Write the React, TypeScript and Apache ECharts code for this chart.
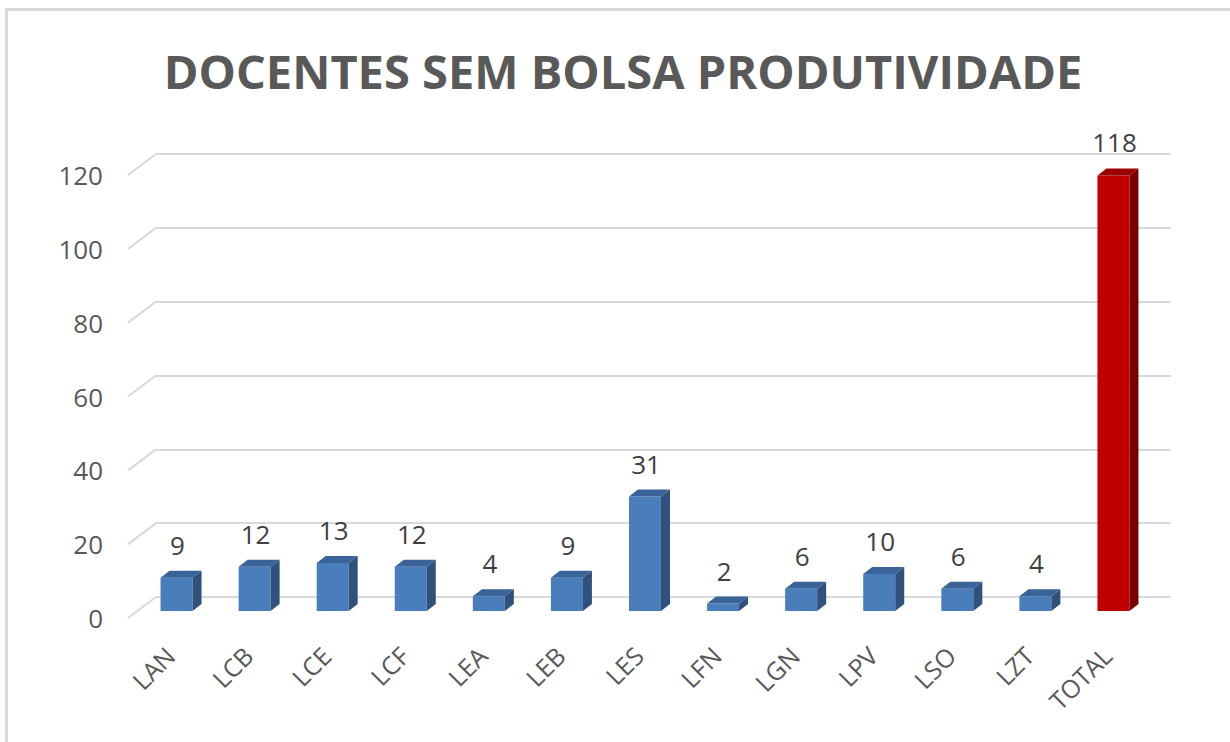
import React, { useEffect, useRef } from "react";
import * as echarts from "echarts";

const titleText = "DOCENTES SEM BOLSA PRODUTIVIDADE";
const categories = ["LAN", "LCB", "LCE", "LCF", "LEA", "LEB", "LES", "LFN", "LGN", "LPV", "LSO", "LZT", "TOTAL"];
const values = [9, 12, 13, 12, 4, 9, 31, 2, 6, 10, 6, 4, 118];
const yTicks = [0, 20, 40, 60, 80, 100, 120];

const FONT = "'Open Sans', 'Noto Sans', sans-serif";
// depth offsets (back wall -> front floor)
const DX = 28;
const DY = 21;
const BAR_HALF = 16;
const BAR_DX = 9;
const BAR_DY = 7;

export default function App() {
  const ref = useRef<HTMLDivElement>(null);

  useEffect(() => {
    if (!ref.current) return;
    const chart = echarts.init(ref.current, undefined, { renderer: "svg" });

    const option: any = {
      animation: false,
      backgroundColor: "#ffffff",
      grid: { left: 156, right: 59, top: 154, bottom: 145 },
      xAxis: {
        type: "category",
        data: categories,
        axisLine: { show: false },
        axisTick: { show: false },
        axisLabel: { show: false },
        splitLine: { show: false },
      },
      yAxis: {
        type: "value",
        min: 0,
        max: 120,
        interval: 20,
        axisLine: { show: false },
        axisTick: { show: false },
        axisLabel: { show: false },
        splitLine: { show: true, lineStyle: { color: "#d9d9d9", width: 2 } },
      },
      graphic: [
        {
          type: "rect",
          shape: { x: 6.5, y: 9.5, width: 1400, height: 900 },
          style: { fill: "none", stroke: "#d9d9d9", lineWidth: 3 },
          silent: true,
        },
        {
          type: "text",
          x: 623,
          y: 71,
          style: {
            text: titleText,
            font: `bold 47px ${FONT}`,
            fill: "#595959",
            align: "center",
            verticalAlign: "middle",
          },
        },
      ],
      series: [
        {
          type: "custom",
          clip: false,
          data: yTicks.map((v) => [0, v]),
          encode: { x: 0, y: 1 },
          z: 1,
          renderItem: (params: any, api: any) => {
            const v = api.value(1);
            const p = api.coord([0, v]);
            const gx = params.coordSys.x;
            const y = p[1];
            return {
              type: "group",
              children: [
                {
                  type: "line",
                  shape: { x1: gx - DX, y1: y + DY, x2: gx, y2: y },
                  style: { stroke: "#d9d9d9", lineWidth: 2 },
                },
                {
                  type: "text",
                  x: gx - DX - 25,
                  y: y + DY,
                  style: {
                    text: String(v),
                    font: `26px ${FONT}`,
                    fill: "#595959",
                    align: "right",
                    verticalAlign: "middle",
                  },
                },
              ],
            };
          },
        },
        {
          type: "custom",
          clip: false,
          data: values.map((v, i) => [i, v]),
          encode: { x: 0, y: 1 },
          z: 3,
          renderItem: (params: any, api: any) => {
            const i = api.value(0);
            const v = api.value(1);
            const top = api.coord([i, v]);
            const base = api.coord([i, 0]);
            // middle depth plane
            const mx = top[0] - DX / 2;
            const myTop = top[1] + DY / 2;
            const myBase = base[1] + DY / 2;
            // front face
            const fx = mx - BAR_DX / 2;
            const fTop = myTop + BAR_DY / 2;
            const fBase = myBase + BAR_DY / 2;
            const isTotal = categories[i] === "TOTAL";
            const cFront = isTotal ? "#c00000" : "#4a7ebb";
            const cSide = isTotal ? "#780000" : "#30517c";
            const cTop = isTotal ? "#9a0000" : "#3a6398";
            const L = fx - BAR_HALF;
            const R = fx + BAR_HALF;
            const floorCx = base[0] - DX;
            const floorY = base[1] + DY;
            return {
              type: "group",
              children: [
                {
                  type: "polygon",
                  shape: { points: [[L, fBase], [R, fBase], [R, fTop], [L, fTop]] },
                  style: { fill: cFront },
                },
                {
                  type: "polygon",
                  shape: {
                    points: [[R, fBase], [R + BAR_DX, fBase - BAR_DY], [R + BAR_DX, fTop - BAR_DY], [R, fTop]],
                  },
                  style: { fill: cSide },
                },
                {
                  type: "polygon",
                  shape: {
                    points: [[L, fTop], [R, fTop], [R + BAR_DX, fTop - BAR_DY], [L + BAR_DX, fTop - BAR_DY]],
                  },
                  style: { fill: cTop },
                },
                {
                  type: "text",
                  x: fx + 1,
                  y: fTop - 33,
                  style: {
                    text: String(v),
                    font: `26px ${FONT}`,
                    fill: "#404040",
                    align: "center",
                    verticalAlign: "middle",
                  },
                },
                {
                  type: "text",
                  x: floorCx + 3,
                  y: floorY + 33,
                  rotation: Math.PI / 4,
                  style: {
                    text: categories[i],
                    font: `25px ${FONT}`,
                    fill: "#595959",
                    align: "right",
                    verticalAlign: "middle",
                  },
                },
              ],
            };
          },
        },
      ],
    };

    chart.setOption(option);
    return () => chart.dispose();
  }, []);

  return (
    <div
      ref={ref}
      style={{ position: "fixed", left: 0, top: 0, width: 1230, height: 742 }}
    />
  );
}
